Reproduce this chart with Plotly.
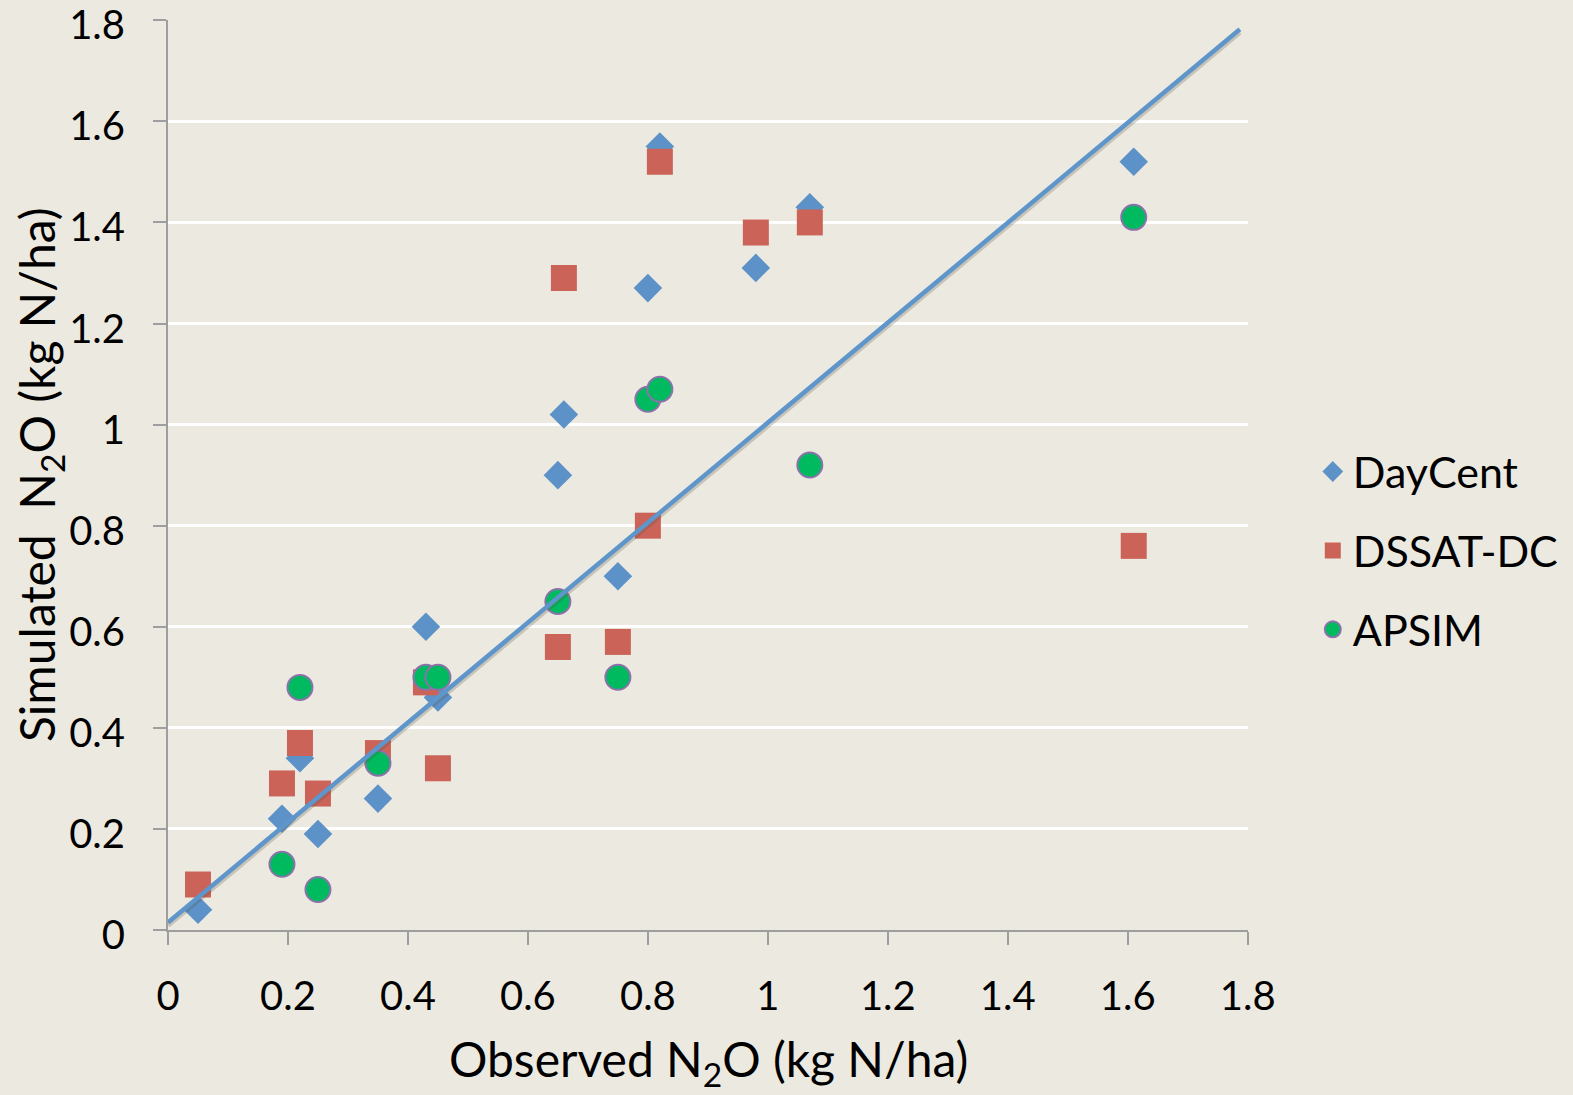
import plotly.graph_objects as go

# ---- data ----
daycent_x = [0.05, 0.19, 0.22, 0.25, 0.35, 0.43, 0.45, 0.65, 0.66, 0.75, 0.80, 0.82, 0.98, 1.07, 1.61]
daycent_y = [0.04, 0.22, 0.34, 0.19, 0.26, 0.60, 0.46, 0.90, 1.02, 0.70, 1.27, 1.55, 1.31, 1.43, 1.52]

dssat_x = [0.05, 0.19, 0.22, 0.25, 0.35, 0.43, 0.45, 0.65, 0.66, 0.75, 0.80, 0.82, 0.98, 1.07, 1.61]
dssat_y = [0.09, 0.29, 0.37, 0.27, 0.35, 0.49, 0.32, 0.56, 1.29, 0.57, 0.80, 1.52, 1.38, 1.40, 0.76]

apsim_x = [0.19, 0.22, 0.25, 0.35, 0.43, 0.45, 0.65, 0.75, 0.80, 0.82, 1.07, 1.61]
apsim_y = [0.13, 0.48, 0.08, 0.33, 0.50, 0.50, 0.65, 0.50, 1.05, 1.07, 0.92, 1.41]

line_x = [0.0, 1.787]
line_y = [0.015, 1.782]

tick_vals = [0, 0.2, 0.4, 0.6, 0.8, 1.0, 1.2, 1.4, 1.6, 1.8]
tick_text = ["0", "0.2", "0.4", "0.6", "0.8", "1", "1.2", "1.4", "1.6", "1.8"]

FONT = "Lato, 'Open Sans', sans-serif"
BG = "#ECEAE0"
AXIS_GRAY = "#9E9E9E"

fig = go.Figure()

fig.add_trace(go.Scatter(
    x=daycent_x, y=daycent_y, mode="markers", name="DayCent",
    legendgroup="a",
    marker=dict(symbol="diamond", size=22, color="#5D92C8", line=dict(width=0)),
))
fig.add_trace(go.Scatter(
    x=dssat_x, y=dssat_y, mode="markers", name="DSSAT-DC",
    legendgroup="b",
    marker=dict(symbol="square", size=26, color="#CB6359", line=dict(width=0)),
))
fig.add_trace(go.Scatter(
    x=apsim_x, y=apsim_y, mode="markers", name="APSIM",
    legendgroup="c",
    marker=dict(symbol="circle", size=25, color="#00BA60", line=dict(width=2, color="#8C72AA")),
))
# soft shadow under the fitted line
fig.add_trace(go.Scatter(
    x=line_x, y=[v - 0.006 for v in line_y], mode="lines", showlegend=False,
    line=dict(color="rgba(90,80,60,0.25)", width=5),
    hoverinfo="skip",
))
fig.add_trace(go.Scatter(
    x=line_x, y=line_y, mode="lines", showlegend=False,
    line=dict(color="#5E95CB", width=4.5),
    hoverinfo="skip",
))

axis_common = dict(
    range=[0, 1.8005],
    tickvals=tick_vals, ticktext=tick_text,
    showline=True, linecolor=AXIS_GRAY, linewidth=2,
    ticks="outside", tickcolor=AXIS_GRAY, tickwidth=2, ticklen=13,
    tickfont=dict(family=FONT, size=40, color="black"),
    zeroline=False,
    ticklabeloverflow="allow",
    automargin=False,
)

fig.update_xaxes(**axis_common, showgrid=False, ticklabelstandoff=17)
fig.update_yaxes(**axis_common, showgrid=True, gridcolor="white", gridwidth=2.5,
                 ticklabelstandoff=20, ticklabelshift=5)

fig.update_layout(
    width=1573, height=1095,
    margin=dict(l=168, r=325, t=20, b=165, autoexpand=False),
    paper_bgcolor=BG, plot_bgcolor=BG,
    font=dict(family=FONT, color="black"),
    showlegend=True,
    legend=dict(
        x=1.06, y=0.417, xanchor="left", yanchor="middle",
        font=dict(family=FONT, size=43, color="black"),
        bgcolor="rgba(0,0,0,0)",
        tracegroupgap=20,
        traceorder="grouped",
        itemsizing="trace",
    ),
    annotations=[
        dict(text="Observed N<sub>2</sub>O (kg N/ha)", xref="paper", yref="paper",
             x=0.5, y=-0.145, xanchor="center", yanchor="middle", showarrow=False,
             font=dict(family=FONT, size=48, color="black")),
        dict(text="Simulated  N<sub>2</sub>O (kg N/ha)", xref="paper", yref="paper",
             x=-0.1185, y=0.5, xanchor="center", yanchor="middle", showarrow=False,
             textangle=-90,
             font=dict(family=FONT, size=48, color="black")),
    ],
)

fig.write_html(
    "out.html",
    config={"displayModeBar": False},
    post_script="document.body.style.margin='0';document.body.style.background='" + BG + "';",
)
